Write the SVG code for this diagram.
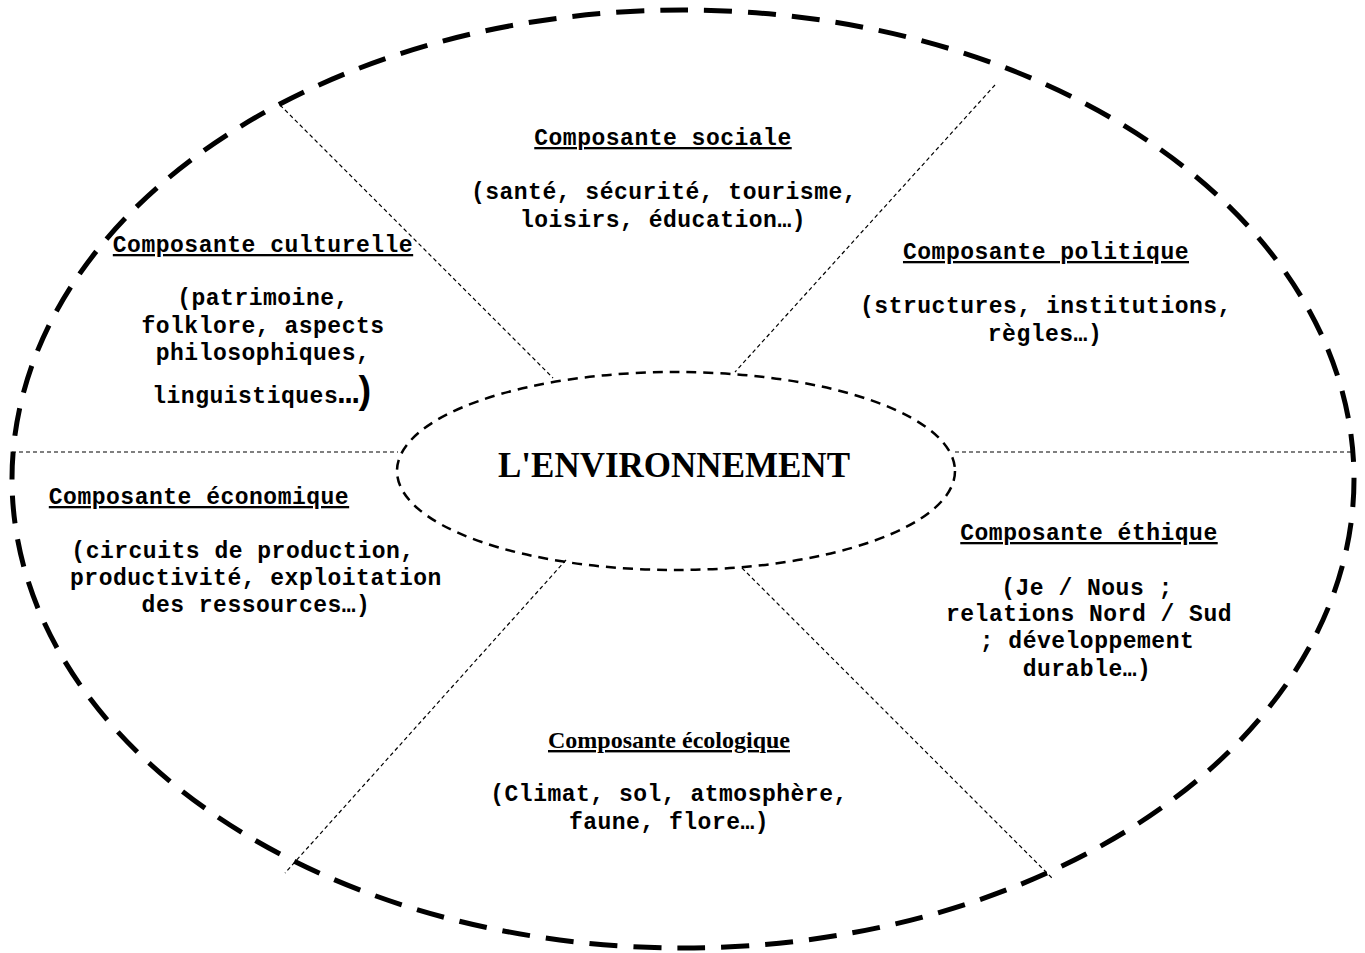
<svg xmlns="http://www.w3.org/2000/svg" width="1365" height="953" viewBox="0 0 1365 953">
<style>
.m{font-family:"Liberation Mono","Courier New",monospace;font-weight:bold;font-size:23px;letter-spacing:0.5px;text-anchor:middle;fill:#000}
.h{text-decoration:underline}
.t{font-family:"Liberation Serif","Times New Roman",serif;font-weight:bold;text-anchor:middle;fill:#000}
.sep{stroke:#000;stroke-width:1.2;stroke-dasharray:4 3;fill:none}
</style>
<rect width="1365" height="953" fill="#fff"/>
<g id="connectors">
<line class="sep" x1="280" y1="105" x2="553" y2="378"/>
<line class="sep" x1="995" y1="85" x2="735" y2="372"/>
<line class="sep" x1="12" y1="452" x2="398" y2="452"/>
<line class="sep" x1="955" y1="452" x2="1355" y2="452"/>
<line class="sep" x1="566" y1="560" x2="285" y2="873"/>
<line class="sep" x1="742" y1="568" x2="1052" y2="878"/>
</g>
<g id="outer">
<ellipse cx="683" cy="479" rx="671" ry="469" fill="none" stroke="#000" stroke-width="5" stroke-dasharray="28 16"/>
</g>
<g id="center">
<ellipse cx="676" cy="471" rx="279" ry="99" fill="none" stroke="#000" stroke-width="2.5" stroke-dasharray="10 7"/>
<text class="t" x="674" y="477" font-size="35">L'ENVIRONNEMENT</text>
</g>
<g id="sociale">
<text class="m h" x="663" y="145">Composante sociale</text>
<text class="m" x="664" y="199">(santé, sécurité, tourisme,</text>
<text class="m" x="663" y="227">loisirs, éducation…)</text>
</g>
<g id="culturelle">
<text class="m h" x="263" y="252">Composante culturelle</text>
<text class="m" x="263" y="305">(patrimoine,</text>
<text class="m" x="263" y="333">folklore, aspects</text>
<text class="m" x="263" y="360">philosophiques,</text>
<text class="m" x="262" y="403">linguistiques<tspan font-size="34" letter-spacing="0">…</tspan><tspan font-size="38" font-family="Liberation Sans, Arial, sans-serif">)</tspan></text>
</g>
<g id="politique">
<text class="m h" x="1046" y="259">Composante politique</text>
<text class="m" x="1046" y="313">(structures, institutions,</text>
<text class="m" x="1045" y="341">règles…)</text>
</g>
<g id="economique">
<text class="m h" x="199" y="504">Composante économique</text>
<text class="m" x="243" y="558">(circuits de production,</text>
<text class="m" x="256" y="585">productivité, exploitation</text>
<text class="m" x="256" y="612">des ressources…)</text>
</g>
<g id="ethique">
<text class="m h" x="1089" y="540">Composante éthique</text>
<text class="m" x="1087" y="595">(Je / Nous ;</text>
<text class="m" x="1089" y="621">relations Nord / Sud</text>
<text class="m" x="1087" y="648">; développement</text>
<text class="m" x="1087" y="676">durable…)</text>
</g>
<g id="ecologique">
<text class="t h" x="669" y="748" font-size="24">Composante écologique</text>
<text class="m" x="669" y="801">(Climat, sol, atmosphère,</text>
<text class="m" x="669" y="829">faune, flore…)</text>
</g>
</svg>
